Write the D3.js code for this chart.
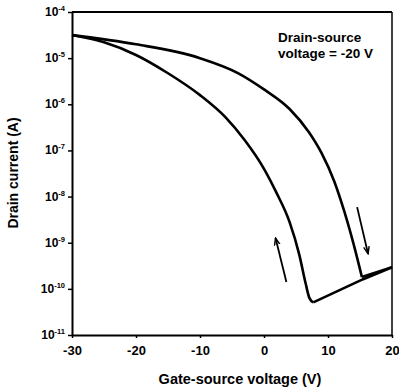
<!DOCTYPE html>
<html><head><meta charset="utf-8">
<script src="https://cdn.jsdelivr.net/npm/d3@7/dist/d3.min.js"></script>
<style>body{margin:0;background:#fff}svg{display:block}text{font-family:"Liberation Sans",Arial,sans-serif;font-weight:bold;fill:#000}</style>
</head><body><svg id="c" width="399" height="392"></svg>
<script>
// Forward sweep (-30 V -> +20 V), outer curve
const fwdV = [-30, -20, -10, -4, 0, 4, 7, 9, 11, 12.5, 14, 15.3, 20];
const fwdI = [3.16e-5, 2.0e-5, 1.0e-5, 4.7e-6, 2.1e-6, 7.9e-7, 2.5e-7, 8.7e-8, 2.1e-8, 5.0e-9, 9.3e-10, 1.8e-10, 2.95e-10];
// Reverse sweep (+20 V -> -30 V), inner curve
const revV = [20, 15.5, 7.7, 7.1, 6.5, 5.5, 4, 2, 0, -3, -6, -10, -15, -20, -25, -30];
const revI = [2.95e-10, 1.62e-10, 5.1e-11, 6.3e-11, 1.32e-10, 5.6e-10, 2.8e-9, 1.17e-8, 4.0e-8, 1.66e-7, 5.2e-7, 1.58e-6, 4.7e-6, 1.17e-5, 2.2e-5, 3.16e-5];
const xTicks = [-30, -20, -10, 0, 10, 20];
const yExps = [-4, -5, -6, -7, -8, -9, -10, -11];
const xTitle = "Gate-source voltage (V)";
const yTitle = "Drain current (A)";
const note = ["Drain-source", "voltage = -20 V"];
// arrows: [v0, i0, v1, i1]
const arrows = [[3.5, 1.41e-10, 1.8, 1.26e-9], [14.55, 5.9e-9, 16.26, 5.75e-10]];

const svg = d3.select("#c");
const x = d3.scaleLinear().domain([-30, 20]).range([72, 392]);
const y = d3.scaleLog().domain([1e-11, 1e-4]).range([335, 12]);

const defs = svg.append("defs");
defs.append("marker").attr("id", "ah").attr("viewBox", "0 0 10 10").attr("refX", 9).attr("refY", 5)
  .attr("markerWidth", 8).attr("markerHeight", 8).attr("markerUnits", "userSpaceOnUse").attr("orient", "auto")
  .append("path").attr("d", "M0,1.5 L9,5 L0,8.5").attr("fill", "none").attr("stroke", "#000").attr("stroke-width", 1.8);

// frame
svg.append("line").attr("x1", 72).attr("x2", 392).attr("y1", 12).attr("y2", 12).attr("stroke", "#000").attr("stroke-width", 1.8);
svg.append("line").attr("x1", 392).attr("x2", 392).attr("y1", 12).attr("y2", 335).attr("stroke", "#000").attr("stroke-width", 1.5);

// x axis
const gx = svg.append("g").attr("transform", "translate(0,335)")
  .call(d3.axisBottom(x).tickValues(xTicks).tickSize(3).tickSizeOuter(0).tickFormat(d => String(d)));
gx.select(".domain").attr("stroke-width", 1.8);
gx.selectAll(".tick line").attr("stroke-width", 1.5);
gx.selectAll(".tick text").attr("font-size", 13).attr("dy", "1.05em").style("font-family", "Liberation Sans, Arial").style("font-weight", "bold");

// y axis
const gy = svg.append("g").attr("transform", "translate(72,0)")
  .call(d3.axisLeft(y).tickValues(yExps.map(e => Math.pow(10, e))).tickSize(4).tickSizeOuter(0).tickFormat(""));
gy.select(".domain").attr("stroke-width", 2);
gy.selectAll(".tick line").attr("stroke-width", 1.5);
yExps.forEach(e => {
  const t = svg.append("text").attr("x", 65).attr("y", y(Math.pow(10, e)) + 4).attr("text-anchor", "end").attr("font-size", 12);
  t.append("tspan").text("10");
  t.append("tspan").attr("font-size", 7.5).attr("dy", -5).text(String(e));
});

// titles
svg.append("text").attr("x", 240).attr("y", 384).attr("text-anchor", "middle").attr("font-size", 14.5).text(xTitle);
svg.append("text").attr("transform", "translate(18,173) rotate(-90)").attr("text-anchor", "middle").attr("font-size", 14).text(yTitle);
svg.append("text").attr("x", 278).attr("y", 42).attr("font-size", 13.5).text(note[0]);
svg.append("text").attr("x", 278).attr("y", 58).attr("font-size", 13.5).text(note[1]);

// curves
const fwd = fwdV.map((v, i) => [v, fwdI[i]]);
const rev = revV.map((v, i) => [v, revI[i]]).sort((a, b) => a[0] - b[0]);
const smooth = d3.line().x(d => x(d[0])).y(d => y(d[1])).curve(d3.curveMonotoneX);
const straight = d3.line().x(d => x(d[0])).y(d => y(d[1]));
function split(arr) {
  let k = 0; arr.forEach((d, i) => { if (d[1] < arr[k][1]) k = i; });
  return [arr.slice(0, k + 1), arr.slice(k)];
}
[split(fwd), split(rev)].forEach(([a, b]) => {
  svg.append("path").attr("d", smooth(a)).attr("fill", "none").attr("stroke", "#000").attr("stroke-width", 2.6).attr("stroke-linejoin", "round");
  svg.append("path").attr("d", straight(b)).attr("fill", "none").attr("stroke", "#000").attr("stroke-width", 2.6).attr("stroke-linejoin", "round");
});

arrows.forEach(a => {
  svg.append("line").attr("x1", x(a[0])).attr("y1", y(a[1])).attr("x2", x(a[2])).attr("y2", y(a[3]))
    .attr("stroke", "#000").attr("stroke-width", 1.8).attr("marker-end", "url(#ah)");
});
</script></body></html>
